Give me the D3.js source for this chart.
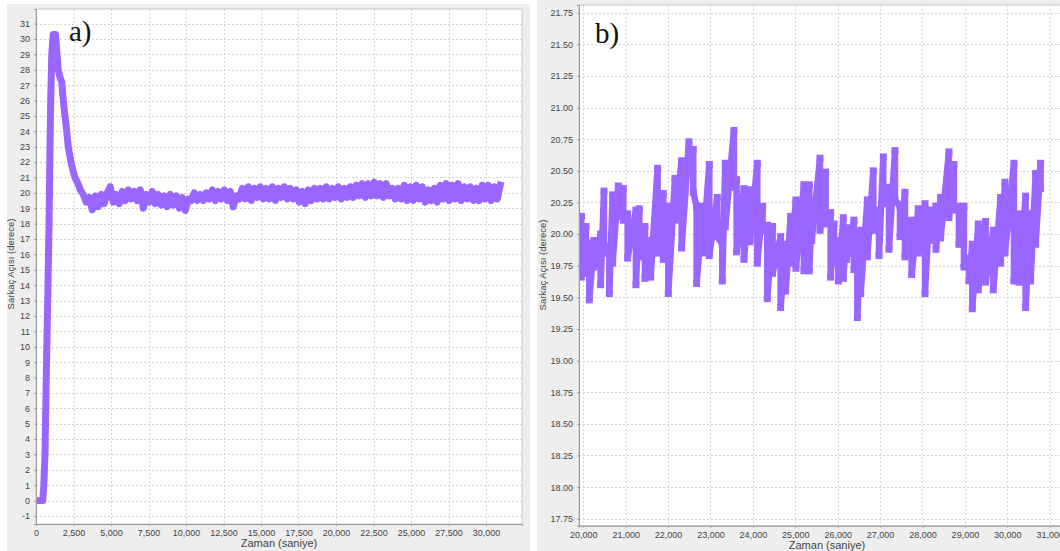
<!DOCTYPE html>
<html><head><meta charset="utf-8">
<script src="https://cdn.jsdelivr.net/npm/d3@7"></script>
<style>body{margin:0;background:#fff}svg{display:block}</style>
</head><body><svg id="c" width="1060" height="551"></svg>
<script>
// ---------- data ----------
const xLabel = "Zaman (saniye)";
const yLabel = "Sarkaç Açısı (derece)";
const panelTags = ["a)", "b)"];

// panel a: full run (time in s, angle in degrees)
const aTime = [0,200,450,520,600,650,720,800,870,920,980,1050,1150,1300,1400,1480,1600,1720,1800,1930,2050,2150,2330,2450,2600,2800,2950,
3150,3350,3550,3750,3950,4150,4350,4550,4750,4950,
5150,5350,5550,5750,5950,6150,6350,6550,6750,6950,
7150,7350,7550,7750,7950,8150,8350,8550,8750,8950,
9150,9350,9550,9750,9950,10150,10350,10550,10750,10950,
11150,11350,11550,11750,11950,12150,12350,12550,12750,12950,
13150,13350,13550,13750,13950,14150,14350,14550,14750,14950,
15150,15350,15550,15750,15950,16150,16350,16550,16750,16950,
17150,17350,17550,17750,17950,18150,18350,18550,18750,18950,
19150,19350,19550,19750,19950,20150,20350,20550,20750,20950,
21150,21350,21550,21750,21950,22150,22350,22550,22750,22950,
23150,23350,23550,23750,23950,24150,24350,24550,24750,24950,
25150,25350,25550,25750,25950,26150,26350,26550,26750,26950,
27150,27350,27550,27750,27950,28150,28350,28550,28750,28950,
29150,29350,29550,29750,29950,30150,30350,30550,30750,30950];
const aAngle = [0,0,0,1,3,6,10,14,18,22,26,29,30.3,30.3,29.0,28.0,27.5,27.2,26.2,25.0,24.0,23.0,22.0,21.5,21.0,20.6,20.2,
19.9,19.4,19.7,18.9,19.8,19.1,19.9,19.3,20.0,20.4,
19.4,19.9,19.3,20.1,19.5,20.2,19.6,20.1,19.5,20.2,
19.0,19.9,19.4,20.1,19.3,19.9,19.2,19.8,19.1,19.9,
19.2,19.8,19.0,19.7,18.85,19.6,19.5,20.0,19.5,19.9,
19.5,20.0,19.6,20.2,19.5,20.1,19.6,20.2,19.5,20.1,
19.1,19.8,19.6,20.3,19.6,20.4,19.5,20.3,19.7,20.4,
19.6,20.3,19.6,20.4,19.5,20.3,19.7,20.4,19.6,20.3,
19.6,20.2,19.4,20.1,19.3,20.2,19.5,20.3,19.6,20.3,
19.6,20.4,19.6,20.3,19.7,20.4,19.6,20.3,19.7,20.4,
19.7,20.5,19.8,20.6,19.7,20.6,19.8,20.7,19.8,20.6,
19.7,20.6,19.8,20.3,19.6,20.3,19.6,20.5,19.5,20.4,
19.5,20.5,19.6,20.4,19.4,20.2,19.5,20.3,19.4,20.5,
19.6,20.6,19.5,20.5,19.6,20.6,19.5,20.4,19.6,20.4,
19.5,20.3,19.5,20.5,19.6,20.5,19.5,20.4,19.6,20.5];

// panel b: 20,000–31,000 s detail; for each swing, its time, high and low angle
const bTime = [19953,20063,20142,20252,20409,20488,20614,20692,20826,20944,21046,21242,21321,21455,21588,21753,21887,22005,22162,22319,
22492,22594,22673,22815,22972,23160,23278,23349,23553,23616,23789,23931,24104,24229,24339,24465,24654,24772,24890,25015,
25204,25330,25386,25583,25716,25834,25913,26015,26133,26211,26384,26463,26542,26699,26840,26974,27076,27210,27351,27469,
27587,27744,27901,28059,28161,28318,28428,28624,28742,28860,28978,29096,29175,29316,29489,29670,29843,29945,30157,30275,
30432,30550,30668,30786];
const bHigh = [20.14,20.06,19.93,19.95,20.00,20.34,19.90,20.31,20.38,20.36,20.16,20.19,20.20,20.06,19.95,20.52,20.32,20.22,20.44,20.58,
20.73,20.67,20.22,20.22,20.55,20.29,19.92,20.56,20.82,20.43,20.36,20.35,20.56,20.22,20.07,20.06,19.98,19.92,20.14,20.27,
20.39,20.39,20.16,20.60,20.49,20.17,20.08,19.95,20.13,20.05,20.11,19.96,20.03,20.27,20.50,20.19,20.61,20.37,20.66,20.22,
20.33,20.11,20.20,20.24,20.19,20.22,20.29,20.65,20.55,20.22,20.22,19.81,19.92,20.08,20.10,20.03,20.29,20.41,20.56,20.16,
20.30,20.16,20.48,20.56];
const bLow = [19.66,19.69,19.48,19.74,19.60,19.85,19.53,19.77,20.14,20.11,19.81,19.60,19.82,19.65,19.66,19.85,19.80,19.53,20.11,19.89,
20.65,20.33,19.61,19.85,19.83,19.98,19.63,20.06,20.37,19.86,19.80,19.94,19.77,20.03,19.49,19.69,19.42,19.55,19.77,19.73,
19.71,19.71,19.95,20.03,20.08,19.66,19.77,19.63,19.65,19.80,19.72,19.34,19.53,19.82,20.03,19.83,20.24,19.88,20.27,19.98,
19.82,19.68,19.85,19.53,19.95,19.88,19.97,20.13,20.19,19.92,19.74,19.63,19.41,19.56,19.62,19.56,19.77,19.85,19.63,19.62,
19.42,19.63,19.92,20.36];

const aXTicks = [0,2500,5000,7500,10000,12500,15000,17500,20000,22500,25000,27500,30000];
const aYTicks = [-1,0,1,2,3,4,5,6,7,8,9,10,11,12,13,14,15,16,17,18,19,20,21,22,23,24,25,26,27,28,29,30,31];
const bXTicks = [20000,21000,22000,23000,24000,25000,26000,27000,28000,29000,30000,31000];
const bYTicks = [17.75,18.00,18.25,18.50,18.75,19.00,19.25,19.50,19.75,20.00,20.25,20.50,20.75,21.00,21.25,21.50,21.75];

// ---------- drawing ----------
const svg = d3.select("#c");
const PURPLE = "#9966ff";
const FONT = "'Liberation Sans', Arial, sans-serif";

svg.append("rect").attr("x",7).attr("y",4).attr("width",523).attr("height",547).attr("fill","#eeeeee");
svg.append("rect").attr("x",537).attr("y",0).attr("width",523).attr("height",551).attr("fill","#eeeeee");

function panel(cfg) {
  const g = svg.append("g");
  const x = d3.scaleLinear().domain(cfg.xd).range([cfg.l, cfg.r]);
  const y = d3.scaleLinear().domain(cfg.yd).range([cfg.b, cfg.t]);
  g.append("rect").attr("x",cfg.l).attr("y",cfg.t).attr("width",cfg.r-cfg.l).attr("height",cfg.b-cfg.t)
    .attr("fill","#fff").attr("stroke","#c8c8c8");
  g.selectAll(".vg").data(cfg.xt).join("line")
    .attr("x1",d=>Math.round(x(d))+0.5).attr("x2",d=>Math.round(x(d))+0.5)
    .attr("y1",cfg.t).attr("y2",cfg.b).attr("stroke","#d6d6d6").attr("stroke-dasharray","2,2");
  g.selectAll(".hg").data(cfg.yt).join("line")
    .attr("y1",d=>Math.round(y(d))+0.5).attr("y2",d=>Math.round(y(d))+0.5)
    .attr("x1",cfg.l).attr("x2",cfg.r).attr("stroke","#d6d6d6").attr("stroke-dasharray","2,2");
  const cid = "clip"+cfg.id;
  svg.append("clipPath").attr("id",cid).append("rect")
    .attr("x",cfg.l).attr("y",cfg.t).attr("width",cfg.r-cfg.l).attr("height",cfg.b-cfg.t);
  const dg = g.append("g").attr("clip-path",`url(#${cid})`);
  const pts = cfg.pts;
  dg.append("path").datum(pts)
    .attr("d", d3.line().x(d=>x(d[0])).y(d=>y(d[1])))
    .attr("fill","none").attr("stroke",PURPLE).attr("stroke-width",cfg.sw)
    .attr("stroke-linejoin",cfg.join).attr("stroke-linecap","square");
  if (cfg.markers) {
    dg.selectAll(".m").data(pts).join("rect")
      .attr("x",d=>x(d[0])-3.5).attr("y",d=>y(d[1])-3.5).attr("width",7).attr("height",7).attr("fill",PURPLE);
  }
  const ax = g.append("g").attr("transform",`translate(0,${cfg.b})`)
    .call(d3.axisBottom(x).tickValues(cfg.xt).tickFormat(d3.format(",")).tickSize(2).tickPadding(4));
  const ay = g.append("g").attr("transform",`translate(${cfg.l},0)`)
    .call(d3.axisLeft(y).tickValues(cfg.yt).tickFormat(cfg.yf).tickSize(2).tickPadding(4));
  [ax,ay].forEach(a=>{
    a.select(".domain").attr("stroke","#9a9a9a");
    a.selectAll(".tick line").attr("stroke","#9a9a9a");
    a.selectAll("text").attr("fill","#444").style("font-family",FONT).style("font-size","9px");
  });
  g.append("text").attr("x",(cfg.l+cfg.xlc)).attr("y",cfg.xly).attr("text-anchor","middle")
    .style("font-family",FONT).style("font-size","11px").attr("fill","#444").text(xLabel);
  g.append("text").attr("transform",`translate(${cfg.ylx},${cfg.ylc}) rotate(-90)`).attr("text-anchor","middle")
    .style("font-family",FONT).style("font-size","9.5px").attr("fill","#444").text(yLabel);
  g.append("text").attr("x",cfg.tagx).attr("y",cfg.tagy)
    .style("font-family","'Liberation Serif','Times New Roman',serif").style("font-size","29px").attr("fill","#111").text(cfg.tag);
}

const aPts = aTime.map((t,i)=>[t,aAngle[i]]);
const bPts = [];
bTime.forEach((t,i)=>{ bPts.push([t,bHigh[i]]); bPts.push([t,bLow[i]]); });

panel({id:"a", l:36, r:522, t:9, b:524, xd:[0,32400], yd:[-1.52,31.95],
  xt:aXTicks, yt:aYTicks, yf:d=>String(d), pts:aPts, sw:7, join:"round", markers:false,
  xlc:243, xly:547, ylx:14, ylc:264, tag:panelTags[0], tagx:69, tagy:41});
panel({id:"b", l:579, r:1075, t:5, b:525.7, xd:[19899,31597], yd:[17.695,21.811],
  xt:bXTicks, yt:bYTicks, yf:d3.format(".2f"), pts:bPts, sw:6.5, join:"bevel", markers:true,
  xlc:248, xly:549, ylx:546, ylc:265, tag:panelTags[1], tagx:595, tagy:43});
</script></body></html>
